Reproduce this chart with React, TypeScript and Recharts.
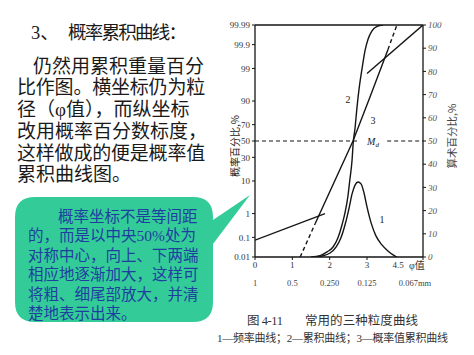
import React from 'react';
import { ComposedChart, Line, XAxis, YAxis, ReferenceLine, ReferenceDot } from 'recharts';

// ---- axis ticks ----
const phiTicks = [0, 1, 2, 3, 4.5];
const phiLabels = ['0', '1', '2', '3', '4.5'];
const mmLabels = ['1', '0.5', '0.250', '0.125', '0.067mm'];
const probTicks = [0.01, 0.1, 1, 10, 30, 50, 70, 90, 99, 99.9, 99.99];
const probTickLabels = ['0.01', '0.1', '1', '10', '30', '50', '70', '90', '99', '99.9', '99.99'];
const pctTicks = [0, 10, 20, 30, 40, 50, 60, 70, 80, 90, 100];

// ---- curve 1: frequency curve (right axis, %) ----
const freqPhi = [1.58, 1.79, 2.01, 2.17, 2.3, 2.41, 2.52, 2.6, 2.68, 2.76, 2.84, 2.92, 3.0, 3.11, 3.24, 3.4, 3.56, 3.7, 3.8];
const freqPct = [0, 0.4, 1.7, 4.3, 8.2, 13.8, 21.1, 27.2, 31.0, 32.3, 31.5, 27.6, 21.6, 14.7, 9.1, 5.2, 2.6, 0.9, 0];

// ---- curve 2: cumulative curve (right axis, %) ----
const cumPhi = [1.5, 1.74, 1.93, 2.09, 2.22, 2.33, 2.41, 2.49, 2.54, 2.6, 2.63, 2.68, 2.73, 2.79, 2.87, 2.95, 3.03, 3.13, 3.27, 3.43];
const cumPct = [0, 0.6, 2.2, 4.3, 8.2, 13.8, 19.0, 26.3, 33.2, 41.8, 49.1, 55.6, 64.2, 72.8, 81.5, 89.2, 94.0, 97.4, 99.4, 100];

// ---- curve 3: probability cumulative curve (left axis, probability %) ----
const midLoDashPhi = [1.21, 1.61];
const midLoDashP = [0.01, 0.4];
const midPhi = [1.61, 2.625, 3.08, 3.56];
const midP = [0.4, 50, 92.1, 99.83];
const midHiDashPhi = [3.56, 3.8];
const midHiDashP = [99.83, 99.99];
const finePhi = [0, 1.875];
const fineP = [0.074, 1.0];
const coarsePhi = [3.0, 4.5];
const coarseP = [98.47, 99.99];

// ---- slide text ----
const titleNum = '3、';
const titleText = '概率累积曲线：';
const paraLines = ['仍然用累积重量百分', '比作图。横坐标仍为粒', '径（φ值），而纵坐标', '改用概率百分数标度，', '这样做成的便是概率值', '累积曲线图。'];
const bubbleLines = ['概率坐标不是等间距', '的，而是以中央50%处为', '对称中心，向上、下两端', '相应地逐渐加大，这样可', '将粗、细尾部放大，并清', '楚地表示出来。'];
const figNo = '图 4-11';
const figTitle = '常用的三种粒度曲线';
const figLegend = '1—频率曲线；2—累积曲线；3—概率值累积曲线';
const leftTitle = '概率百分比,%';
const rightTitle = '算术百分比,%';

const SERIF = '"Liberation Serif", "DejaVu Serif", "Noto Sans CJK SC", serif';
const CJK = '"Noto Sans CJK SC", "Noto Sans CJK TC", sans-serif';
const SLIDE = '"Liberation Serif", "Noto Sans CJK SC", "Noto Sans CJK TC", serif';

function probit(p: number): number {
  const a = [-3.969683028665376e1, 2.209460984245205e2, -2.759285104469687e2, 1.38357751867269e2, -3.066479806614716e1, 2.506628277459239];
  const b = [-5.447609879822406e1, 1.615858368580409e2, -1.556989798598866e2, 6.680131188771972e1, -1.328068155288572e1];
  const c = [-7.784894002430293e-3, -3.223964580411365e-1, -2.400758277161838, -2.549732539343734, 4.374664141464968, 2.938163982698783];
  const d = [7.784695709041462e-3, 3.224671290700398e-1, 2.445134137142996, 3.754408661907416];
  const plow = 0.02425;
  if (p < plow) {
    const q = Math.sqrt(-2 * Math.log(p));
    return (((((c[0] * q + c[1]) * q + c[2]) * q + c[3]) * q + c[4]) * q + c[5]) / ((((d[0] * q + d[1]) * q + d[2]) * q + d[3]) * q + 1);
  }
  if (p <= 1 - plow) {
    const q = p - 0.5;
    const r = q * q;
    return ((((((a[0] * r + a[1]) * r + a[2]) * r + a[3]) * r + a[4]) * r + a[5]) * q) / (((((b[0] * r + b[1]) * r + b[2]) * r + b[3]) * r + b[4]) * r + 1);
  }
  const q = Math.sqrt(-2 * Math.log(1 - p));
  return -(((((c[0] * q + c[1]) * q + c[2]) * q + c[3]) * q + c[4]) * q + c[5]) / ((((d[0] * q + d[1]) * q + d[2]) * q + d[3]) * q + 1);
}

const zMin = probit(0.0001);
const zMax = probit(0.9999);
const zTicks = probTicks.map((p) => probit(p / 100));

const toPts = (phi: number[], v: number[]) => phi.map((x, i) => ({ x, y: v[i] }));
const toProb = (phi: number[], P: number[]) => phi.map((x, i) => ({ x, y: probit(P[i] / 100) }));

const freqData = toPts(freqPhi, freqPct);
const cumData = toPts(cumPhi, cumPct);
const midLoDash = toProb(midLoDashPhi, midLoDashP);
const midData = toProb(midPhi, midP);
const midHiDash = toProb(midHiDashPhi, midHiDashP);
const fineData = toProb(finePhi, fineP);
const coarseData = toProb(coarsePhi, coarseP);

const INK = '#151515';

const XTick = (props: any) => {
  const { x, y, payload } = props;
  const i = phiTicks.indexOf(payload.value);
  const last = i === phiTicks.length - 1;
  return (
    <g>
      <text x={last ? x - 25 : x} y={y + 6} textAnchor="middle" fontSize={9} fill="#333" fontFamily={SERIF}>
        {phiLabels[i]}
      </text>
      {last && (
        <text x={x - 14} y={y + 7} fontSize={10} fill="#333" fontFamily={SERIF}>
          φ值
        </text>
      )}
      <text x={last ? x - 8 : x} y={y + 24} textAnchor="middle" fontSize={8.5} fill="#444" fontFamily={SERIF}>
        {mmLabels[i]}
      </text>
    </g>
  );
};

const MdLabel = (props: any) => {
  const vb = props.viewBox || { x: 0, y: 0, width: 0, height: 0 };
  const cx = vb.x + (vb.width || 0) / 2;
  const cy = vb.y + (vb.height || 0) / 2;
  return (
    <text x={cx} y={cy + 3.5} textAnchor="middle" fontSize={10} fontStyle="italic" fontFamily={SERIF} fill="#222">
      M<tspan fontSize={7} dy={2}>d</tspan>
    </text>
  );
};

const numLabel = (v: string) => ({ value: v, position: 'center' as const, fontSize: 10, fill: '#222', fontFamily: SERIF });

const lineCommon = { dot: false, isAnimationActive: false, stroke: INK, strokeWidth: 1.4, activeDot: false } as any;

const paraIndent = [16, 0, 0, 0, 0, 0];
const bubbleIndent = [30, 0, 0, 0, 0, 0];

export default function App() {
  return (
    <div style={{ position: 'absolute', left: 0, top: 0, width: 474, height: 355, background: '#fff', overflow: 'hidden' }}>
      <div style={{ position: 'absolute', left: 200, top: 0 }}>
        <ComposedChart width={274} height={300} margin={{ top: 25, right: 0, bottom: 0, left: 0 }}>
          <XAxis
            type="number"
            dataKey="x"
            domain={[0, 4.5]}
            ticks={phiTicks}
            allowDataOverflow
            height={43}
            tickSize={3}
            tickMargin={2}
            tick={<XTick />}
            axisLine={{ stroke: INK, strokeWidth: 1.3 }}
            tickLine={{ stroke: INK }}
          />
          <YAxis
            yAxisId="prob"
            orientation="left"
            type="number"
            domain={[zMin, zMax]}
            ticks={zTicks}
            allowDataOverflow
            width={55}
            tickSize={3}
            tickMargin={2}
            interval={0}
            tickFormatter={(_v: any, i: number) => probTickLabels[i]}
            tick={{ fontSize: 9, fill: '#333', fontFamily: SERIF }}
            axisLine={{ stroke: INK, strokeWidth: 1.3 }}
            tickLine={{ stroke: INK }}
          />
          <YAxis
            yAxisId="pct"
            orientation="right"
            type="number"
            domain={[0, 100]}
            ticks={pctTicks}
            allowDataOverflow
            width={51}
            tickSize={3}
            tickMargin={2}
            interval={0}
            tick={{ fontSize: 9, fill: '#555', fontStyle: 'italic', fontFamily: SERIF }}
            axisLine={{ stroke: INK, strokeWidth: 1.3 }}
            tickLine={{ stroke: INK }}
          />
          <ReferenceLine yAxisId="prob" y={zMax} stroke={INK} strokeWidth={1.3} ifOverflow="visible" />
          <ReferenceLine
            yAxisId="prob"
            segment={[{ x: 0, y: 0 }, { x: 2.81, y: 0 }]}
            stroke={INK}
            strokeWidth={1.2}
            strokeDasharray="4 3"
          />
          <ReferenceLine
            yAxisId="prob"
            segment={[{ x: 3.54, y: 0 }, { x: 4.5, y: 0 }]}
            stroke={INK}
            strokeWidth={1.2}
            strokeDasharray="4 3"
          />
          <Line yAxisId="pct" data={freqData} dataKey="y" type="monotone" {...lineCommon} />
          <Line yAxisId="pct" data={cumData} dataKey="y" type="monotone" {...lineCommon} />
          <Line yAxisId="prob" data={midLoDash} dataKey="y" type="linear" {...lineCommon} strokeDasharray="4 3" />
          <Line yAxisId="prob" data={midData} dataKey="y" type="linear" {...lineCommon} />
          <Line yAxisId="prob" data={midHiDash} dataKey="y" type="linear" {...lineCommon} strokeDasharray="4 3" />
          <Line yAxisId="prob" data={fineData} dataKey="y" type="linear" {...lineCommon} />
          <Line yAxisId="prob" data={coarseData} dataKey="y" type="linear" {...lineCommon} />
          <ReferenceDot yAxisId="pct" x={2.49} y={67.7} r={1} fill="none" stroke="none" label={numLabel('2')} />
          <ReferenceDot yAxisId="pct" x={3.16} y={59} r={1} fill="none" stroke="none" label={numLabel('3')} />
          <ReferenceDot yAxisId="pct" x={3.4} y={16} r={1} fill="none" stroke="none" label={numLabel('1')} />
          <ReferenceDot yAxisId="prob" x={3.16} y={0} r={1} fill="none" stroke="none" label={MdLabel} />
        </ComposedChart>
      </div>
      <svg width={474} height={355} style={{ position: 'absolute', left: 0, top: 0, pointerEvents: 'none' }}>
        {/* axis titles */}
        <text x={234} y={146} transform="rotate(-90 234 146)" textAnchor="middle" dominantBaseline="central" fontSize={10} fill="#222" fontFamily={CJK}>
          {leftTitle}
        </text>
        <text x={451} y={136} transform="rotate(-90 451 136)" textAnchor="middle" dominantBaseline="central" fontSize={10.5} fill="#444" fontFamily={CJK}>
          {rightTitle}
        </text>
        {/* captions */}
        <text x={247} y={325} fontSize={12.5} fill="#333" fontFamily={SLIDE} textLength={36} lengthAdjust="spacing">{figNo}</text>
        <text x={305} y={325} fontSize={12.5} fill="#333" fontFamily={SLIDE} textLength={113} lengthAdjust="spacing">{figTitle}</text>
        <text x={217} y={342} fontSize={11} fill="#333" fontFamily={SLIDE} textLength={231} lengthAdjust="spacing">{figLegend}</text>
        {/* slide title */}
        <text x={31} y={39} fontSize={18.5} fill="#1a1a1a" fontFamily={SLIDE}>{titleNum}</text>
        <text x={68} y={39} fontSize={18.5} fill="#1a1a1a" fontFamily={SLIDE} textLength={119} lengthAdjust="spacing">{titleText}</text>
        {/* callout shape */}
        <path
          d="M35,197 L193,197 Q213,197 213,217 L213,220 L250,195 L213,244 L213,302 Q213,322 193,322 L35,322 Q15,322 15,302 L15,217 Q15,197 35,197 Z"
          fill="#33CC99"
        />
      </svg>
      {/* paragraph */}
      <div
        style={{
          position: 'absolute',
          left: 17,
          top: 55.5,
          width: 200,
          fontFamily: SLIDE,
          fontSize: 19,
          lineHeight: '21.8px',
          color: '#1a1a1a',
          whiteSpace: 'nowrap',
        }}
      >
        {paraLines.map((t, i) => (
          <div key={i} style={{ height: 21.8, paddingLeft: paraIndent[i], letterSpacing: i === 1 || i === 4 ? -0.2 : 0 }}>
            {t}
          </div>
        ))}
      </div>
      {/* callout text */}
      <div
        style={{
          position: 'absolute',
          left: 28,
          top: 206.5,
          width: 185,
          fontFamily: SLIDE,
          fontSize: 15.5,
          lineHeight: '19.6px',
          color: '#1f3f9f',
          whiteSpace: 'nowrap',
        }}
      >
        {bubbleLines.map((t, i) => (
          <div key={i} style={{ height: 19.6, paddingLeft: bubbleIndent[i] }}>
            {t}
          </div>
        ))}
      </div>
    </div>
  );
}
